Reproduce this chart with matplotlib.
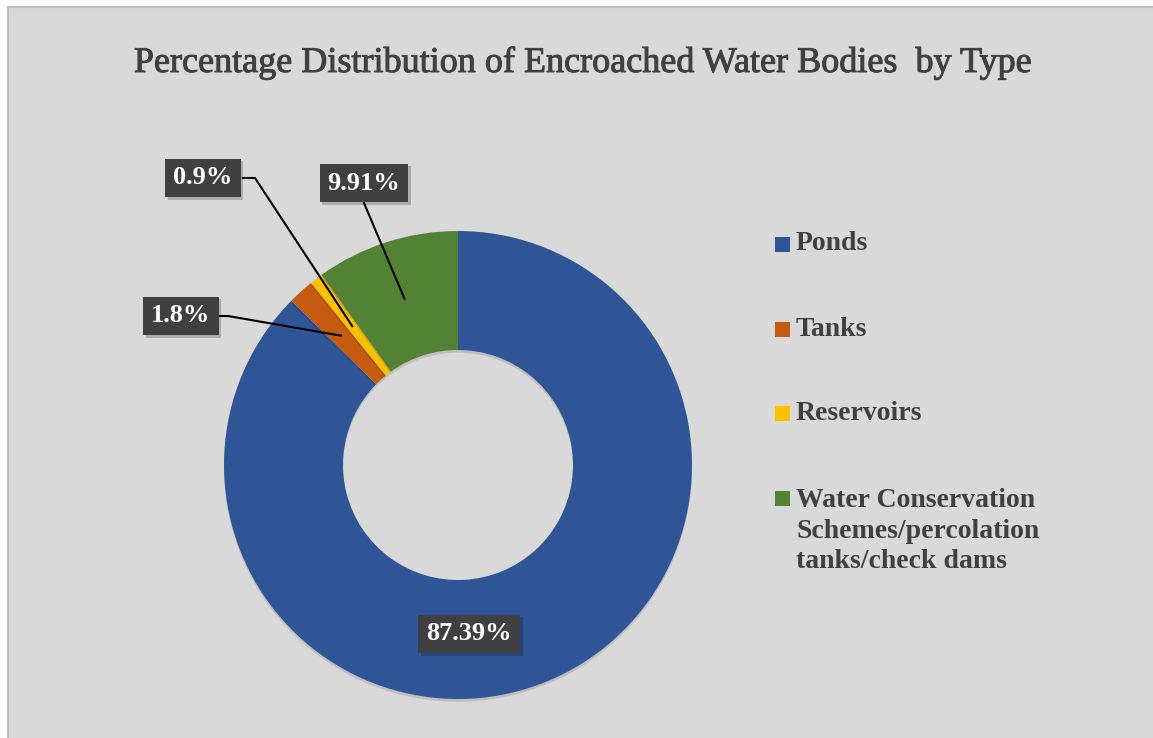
import matplotlib
matplotlib.use("Agg")
import matplotlib.pyplot as plt
from matplotlib.patches import Rectangle
import matplotlib.patheffects as pe
import numpy as np

# ---- data ----
categories = ["Ponds", "Tanks", "Reservoirs",
              "Water Conservation\nSchemes/percolation\ntanks/check dams"]
values = [87.39, 1.8, 0.9, 9.91]
value_labels = ["87.39%", "1.8%", "0.9%", "9.91%"]
colors = ["#2F5597", "#C55A11", "#FFC000", "#548235"]
title = "Percentage Distribution of Encroached Water Bodies  by Type"

W, H = 1153, 738
fig = plt.figure(figsize=(W / 100, H / 100), dpi=100)
fig.patch.set_facecolor("white")
ax = fig.add_axes([0, 0, 1, 1])

def Y(py):
    return H - py

# chart area background + border
ax.add_patch(Rectangle((8, Y(745)), 1160, 738, facecolor="#D9D9D9",
                       edgecolor="#BFBFBF", linewidth=1.5, zorder=0))

cx, cy = 458, Y(465)
R_out, R_in = 234, 115
wedges, _ = ax.pie(values, radius=R_out, center=(cx, cy), startangle=90,
                   counterclock=False, colors=colors,
                   wedgeprops=dict(width=R_out - R_in, edgecolor="none"))
for w in wedges:
    w.set_zorder(2)
    w.set_path_effects([pe.SimplePatchShadow(offset=(0, -2), shadow_rgbFace="#000000", alpha=0.12),
                        pe.Normal()])

ax.set_xlim(0, W)
ax.set_ylim(0, H)
ax.set_aspect("equal")
ax.axis("off")

ax.text(583, Y(72), title, ha="center", va="baseline", fontsize=26,
        family="Liberation Serif", color="#404040",
        path_effects=[pe.withStroke(linewidth=0.7, foreground="#404040")])

# data labels
font_lab = dict(family="Liberation Serif", fontweight="bold", fontsize=19, color="white")
box = dict(boxstyle="square,pad=0.3", facecolor="#404040", edgecolor="none")
label_pos = {0: (469, 634), 1: (181, 316), 2: (203, 178), 3: (364, 183)}
r_mid = (R_out + R_in) / 2
cum = np.cumsum([0] + values)
for i, (lab, v) in enumerate(zip(value_labels, values)):
    mid = 90 - (cum[i] + v / 2) / 100 * 360
    tx = cx + r_mid * np.cos(np.radians(mid))
    ty = cy + r_mid * np.sin(np.radians(mid))
    lx, ly = label_pos[i]
    if i == 1:
        ax.plot([218, 228, tx], [Y(316), Y(316), ty], color="black", lw=1.5, zorder=3)
    elif i == 2:
        ax.plot([243, 255, tx], [Y(178), Y(178), ty], color="black", lw=1.5, zorder=3)
    elif i == 3:
        ax.plot([364, tx], [Y(203), ty], color="black", lw=1.5, zorder=3)
    t = ax.text(lx, Y(ly), lab, ha="center", va="center", bbox=box, zorder=5, **font_lab)
    t.get_bbox_patch().set_path_effects([
        pe.SimplePatchShadow(offset=(2, -2), shadow_rgbFace="#000000", alpha=0.2),
        pe.Normal()])

# legend (manual)
leg_y = [244, 329, 413, 531]
sq_y = [244, 329, 413, 498]
for i, (cat, col) in enumerate(zip(categories, colors)):
    ax.add_patch(Rectangle((775, Y(sq_y[i]) - 7.5), 15, 15, facecolor=col,
                           edgecolor="none", zorder=3))
    ax.text(796, Y(leg_y[i]), cat, ha="left", va="center",
            family="Liberation Serif", fontweight="bold", fontsize=20, color="#404040",
            linespacing=1.3)

fig.savefig("out.png", dpi=100, facecolor=fig.get_facecolor())
